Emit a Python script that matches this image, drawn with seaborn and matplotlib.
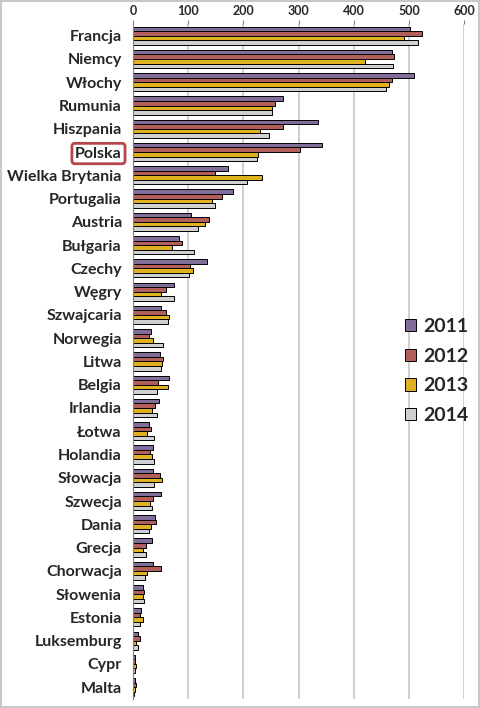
import numpy as np
import matplotlib
matplotlib.use('Agg')
import matplotlib.pyplot as plt
import pandas as pd
import seaborn as sns

# countries, top to bottom
countries = ['Francja', 'Niemcy', 'Włochy', 'Rumunia', 'Hiszpania', 'Polska',
             'Wielka Brytania', 'Portugalia', 'Austria', 'Bułgaria', 'Czechy',
             'Węgry', 'Szwajcaria', 'Norwegia', 'Litwa', 'Belgia', 'Irlandia',
             'Łotwa', 'Holandia', 'Słowacja', 'Szwecja', 'Dania', 'Grecja',
             'Chorwacja', 'Słowenia', 'Estonia', 'Luksemburg', 'Cypr', 'Malta']
years = ['2011', '2012', '2013', '2014']

v2011 = [501, 469, 509, 272, 336, 343, 172, 181, 106, 83, 134, 75, 50, 33, 49,
         66, 47, 29, 37, 37, 50, 40, 34, 37, 19, 15, 9, 4, 4]
v2012 = [524, 472, 469, 257, 272, 303, 149, 162, 137, 89, 104, 59, 59, 29, 54,
         45, 40, 33, 31, 49, 36, 42, 23, 50, 20, 12, 13, 4, 5]
v2013 = [491, 421, 463, 251, 231, 227, 234, 144, 130, 71, 109, 50, 66, 36, 53,
         63, 35, 25, 34, 52, 31, 32, 18, 25, 19, 18, 6, 6, 3]
v2014 = [517, 471, 458, 252, 247, 225, 207, 148, 118, 110, 101, 74, 63, 54, 51,
         44, 44, 38, 38, 38, 35, 29, 24, 21, 20, 12, 10, 4, 2]

colors = ['#8064A2', '#C0504D', '#FFC000', '#D0D0D0']

# long table for seaborn
df = pd.DataFrame({'kraj': countries, '2011': v2011, '2012': v2012,
                   '2013': v2013, '2014': v2014})
df = df.melt(id_vars='kraj', var_name='rok', value_name='wartosc')

sns.set_style('white')
plt.rcParams['font.family'] = ['Lato', 'DejaVu Sans']

fig = plt.figure(figsize=(4.8, 7.08), dpi=100)
ax = fig.add_axes([0.277, 0.013, 0.690, 0.953])

sns.barplot(data=df, y='kraj', x='wartosc', hue='rok', order=countries,
            hue_order=years, palette=colors, orient='h', width=0.78,
            edgecolor='black', linewidth=0.7, ax=ax, legend=True)

ax.set_xlim(0, 600)
ax.set_ylim(len(countries) - 0.5, -0.5)
ax.set_xticks(range(0, 601, 100))
ax.xaxis.tick_top()
ax.xaxis.set_label_position('top')
ax.set_xlabel('')
ax.set_ylabel('')
ax.tick_params(axis='x', length=3, pad=2, labelsize=9, color='#808080')
for t in ax.get_xticklabels():
    t.set_fontweight('bold')
ax.tick_params(axis='y', length=0, pad=8, labelsize=11.5)
for t in ax.get_yticklabels():
    t.set_fontweight('bold')

# boundary ticks like the original
ax.set_yticks(np.arange(-0.5, len(countries), 1), minor=True)
ax.tick_params(axis='y', which='minor', length=4, color='#808080')

ax.grid(axis='x', color='#C8C8C8', linewidth=1.2)
ax.set_axisbelow(True)
for s in ['top', 'right', 'bottom']:
    ax.spines[s].set_visible(False)
ax.spines['left'].set_color('#808080')

# highlight Polska
for t in ax.get_yticklabels():
    if t.get_text() == 'Polska':
        t.set_bbox(dict(boxstyle='round,pad=0.2', facecolor='white',
                        edgecolor='#B5474A', linewidth=2))

leg = ax.legend(loc='center left', bbox_to_anchor=(0.82, 0.486), frameon=False,
                borderpad=0, borderaxespad=0,
                handlelength=0.6, handleheight=0.6, handletextpad=0.35,
                labelspacing=0.65, prop={'size': 14, 'weight': 'bold'})

fig.patches.append(plt.Rectangle((0.002, 0.002), 0.996, 0.996,
                                 transform=fig.transFigure, fill=False,
                                 edgecolor='#C8C8C8', linewidth=1.5))

fig.savefig('out.png', dpi=100)
